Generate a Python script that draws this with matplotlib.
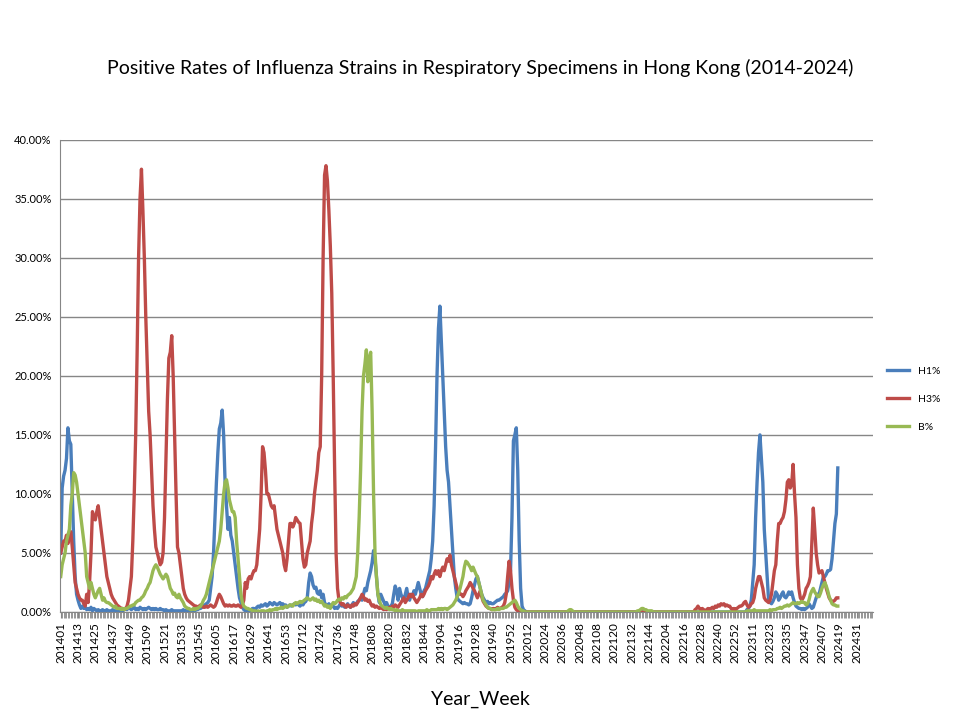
import numpy as np
import matplotlib
matplotlib.use("Agg")
import matplotlib.pyplot as plt
from matplotlib.ticker import FuncFormatter, MultipleLocator

plt.rcParams['font.family'] = ['Lato', 'DejaVu Sans']

# Year -> number of weeks shown on the category axis
year_weeks = {2014: 52, 2015: 52, 2016: 53, 2017: 52, 2018: 52, 2019: 52,
              2020: 52, 2021: 52, 2022: 53, 2023: 52, 2024: 42}
weeks = [f"{y}{w:02d}" for y, n in year_weeks.items() for w in range(1, n + 1)]

h1 = [5.0,10.5,11.5,12.0,13.0,15.6,14.5,14.2,10.0,6.0, 3.0,1.5,1.0,0.6,0.3,0.5,0.3,0.4,0.2,0.3,
      0.2,0.4,0.1,0.3,0.2,0.1,0.2,0.1,0.1,0.2, 0.1,0.1,0.2,0.1,0.1,0.1,0.2,0.1,0.1,0.1,
      0.1,0.2,0.1,0.1,0.2,0.3,0.2,0.4,0.3,0.2, 0.3,0.4,0.2,0.3,0.2,0.4,0.3,0.2,0.3,0.2,
      0.3,0.4,0.3,0.2,0.3,0.2,0.3,0.2,0.2,0.3, 0.2,0.2,0.1,0.2,0.1,0.1,0.1,0.2,0.1,0.1,
      0.1,0.1,0.1,0.1,0.1,0.2,0.1,0.1,0.2,0.1, 0.1,0.1,0.2,0.1,0.2,0.2,0.3,0.3,0.4,0.5,
      0.6,0.7,0.8,1.0,2.0,3.0,5.0,8.0,11.0,13.5, 15.5,16.0,17.1,15.0,11.0,9.0,7.0,8.0,6.5,6.0,
      5.0,4.0,3.0,2.0,1.2,0.8,0.4,0.2,0.1,0.1, 0.2,0.1,0.2,0.3,0.3,0.2,0.4,0.5,0.4,0.6,
      0.5,0.6,0.7,0.5,0.6,0.8,0.7,0.6,0.8,0.7, 0.6,0.7,0.8,0.6,0.7,0.5,0.6,0.4,0.5,0.6,
      0.5,0.6,0.7,0.6,0.7,0.6,0.5,0.7,0.6,0.8, 0.9,1.2,2.5,3.3,3.0,2.3,2.0,2.1,1.6,1.5,
      1.8,1.2,1.5,0.8,0.6,0.5,0.7,0.4,0.6,0.5, 0.3,0.4,0.3,0.5,0.7,0.5,0.6,0.4,0.5,0.7,
      0.5,0.4,0.6,0.8,0.6,0.7,0.9,1.0,1.2,1.0, 1.5,2.0,1.8,2.5,3.0,3.5,4.2,5.2,4.5,3.0,
      1.5,0.8,1.5,1.2,0.9,0.6,0.8,0.5,0.3,0.5, 0.7,1.5,2.2,1.8,1.0,2.0,1.5,1.2,1.0,1.5,
      2.0,1.2,1.0,1.5,1.3,1.8,1.5,2.0,2.5,2.0, 1.5,1.3,1.8,2.0,2.5,3.0,3.5,4.5,6.0,9.0,
      14.0,20.0,24.0,25.9,23.0,20.0,17.0,14.0,12.0,11.0, 9.0,7.0,5.0,3.0,2.0,1.2,1.0,0.9,0.8,0.7,
      0.8,0.7,0.7,0.6,0.7,1.2,1.8,2.3,2.8,3.0, 2.5,2.0,1.5,1.2,1.0,0.8,0.9,0.7,0.8,0.7,
      0.7,0.8,0.9,1.0,1.0,1.1,1.2,1.3,1.5,1.6, 1.8,2.5,3.5,8.0,14.5,15.0,15.6,12.0,6.0,2.0] \
   + [0.5,0.2,0.1] + [0.0] * 153 \
   + [0.2,0.3,0.5,1.0,2.5,4.0,8.0,11.0,13.5,15.0, 13.0,11.0,7.0,5.0,3.0,1.0,0.8,0.7,0.9,
      1.2,1.7,1.5,1.0,1.2,1.5,1.7,1.3,1.2,1.4, 1.7,1.5,1.7,1.2,0.8,0.5,0.4,0.3,0.3,0.2,
      0.3,0.2,0.3,0.4,0.7,0.5,0.3,0.4,0.8,1.2, 1.5,1.5,2.0,2.5,3.0,3.0,3.2,3.5,3.5,3.6,
      4.5,6.0,7.5,8.3,12.2]

h3 = [5.0,5.5,6.0,6.0,6.5,5.8,6.5,6.8,5.5,4.0, 2.5,2.0,1.5,1.2,1.0,1.0,0.7,0.5,1.5,0.8,
      2.5,5.0,8.5,8.0,7.8,8.5,9.0,8.0,7.0,6.0, 5.0,4.0,3.0,2.5,2.0,1.5,1.2,1.0,0.8,0.6,
      0.5,0.4,0.3,0.3,0.2,0.3,0.5,1.0,2.0,3.0, 6.0,10.0,15.0,22.0,30.0,35.0,37.5,34.0,30.0,25.0,
      21.0,17.0,15.0,12.0,9.0,7.0,5.5,5.0,4.5,4.0, 4.2,5.0,8.0,13.0,18.0,21.5,22.0,23.4,20.0,15.0,
      10.0,5.5,5.0,4.0,3.0,2.0,1.5,1.2,1.0,0.9, 0.8,0.7,0.6,0.5,0.5,0.4,0.5,0.6,0.5,0.4,
      0.4,0.5,0.4,0.5,0.6,0.5,0.4,0.5,0.8,1.2, 1.5,1.3,1.0,0.7,0.5,0.6,0.5,0.6,0.5,0.5,
      0.6,0.5,0.5,0.6,0.5,0.4,0.6,1.0,2.5,2.0, 2.8,3.0,2.8,3.2,3.5,3.5,4.0,5.5,7.0,10.0,
      14.0,13.5,12.0,10.0,10.0,9.5,9.0,8.8,9.0,8.0, 7.0,6.5,6.0,5.5,5.0,4.0,3.5,4.5,6.0,7.5,
      7.5,7.2,7.5,8.0,7.8,7.6,7.5,6.0,4.5,3.8, 4.0,5.0,5.5,6.0,7.5,8.5,10.0,11.0,12.0,13.5,
      14.0,20.0,30.0,37.0,37.8,36.5,34.0,31.0,27.0,20.0, 12.0,5.0,2.0,1.0,0.8,0.6,0.7,0.5,0.4,0.6,
      0.5,0.4,0.6,0.5,0.7,0.6,0.8,1.0,1.2,1.5, 1.3,1.0,1.1,0.9,1.0,0.7,0.5,0.6,0.4,0.5,
      0.4,0.3,0.4,0.3,0.2,0.3,0.2,0.3,0.4,0.3, 0.5,0.4,0.6,0.5,0.4,0.6,0.8,1.0,1.2,0.8,
      1.0,1.2,1.5,1.3,1.5,1.2,1.0,0.8,1.0,1.2, 1.5,1.3,1.5,1.8,2.0,2.2,2.5,3.0,2.8,3.2,
      3.5,3.2,3.5,3.0,3.5,3.8,3.5,4.0,4.5,4.3, 4.8,4.0,3.5,3.0,2.5,2.0,1.8,1.5,1.5,1.3,
      1.5,1.8,2.0,2.2,2.5,2.3,2.0,1.8,1.5,1.2, 1.5,1.8,1.3,0.9,0.7,0.5,0.4,0.3,0.3,0.2,
      0.3,0.2,0.3,0.4,0.3,0.3,0.4,0.5,0.8,1.5, 3.0,4.3,3.5,2.0,1.0,0.4,0.2,0.1,0.1,0.0] \
   + [0.0] * 120 \
   + [0.2,0.3,0.5,0.3,0.2,0.3,0.2,0.1,0.2,0.3, 0.2,0.3,0.4,0.3,0.5,0.4,0.6,0.5,0.7,0.6, 0.7,0.5,0.6,0.5,
      0.5,0.3,0.2,0.3,0.2,0.3,0.4,0.5,0.5,0.6, 0.8,0.9,0.6,0.4,0.5,0.7,0.8,1.2,2.0,2.5,
      3.0,3.0,2.5,2.0,1.2,1.0,0.9,0.8,1.0,1.5, 2.5,3.5,4.0,6.0,7.5,7.5,7.8,8.0,8.5,9.5,
      11.0,11.2,10.5,10.8,12.5,10.0,8.0,4.0,2.0,1.2, 1.0,1.2,1.5,2.0,2.2,2.5,3.0,6.0,8.8,7.0,
      5.0,4.0,3.3,3.4,3.5,3.0,2.5,2.0,1.6,1.2, 1.0,0.9,0.9,1.0,1.2,1.2]

b = [3.0,4.0,4.5,5.0,6.0,6.5,7.0,9.0,10.0,11.8, 11.6,11.0,10.0,9.0,8.0,7.0,6.0,5.0,3.0,2.5,
     2.0,2.5,2.0,1.5,1.2,1.5,1.8,2.0,1.5,1.0, 1.2,0.9,0.8,0.8,0.7,0.6,0.5,0.4,0.5,0.3,
     0.3,0.3,0.2,0.3,0.2,0.3,0.3,0.4,0.5,0.5, 0.6,0.6,0.8,0.9,1.0,1.0,1.2,1.3,1.5,1.8,
     2.0,2.3,2.5,3.0,3.5,3.8,4.0,3.8,3.5,3.2, 3.0,2.8,3.0,3.2,3.0,2.5,2.0,1.8,1.5,1.6,
     1.3,1.2,1.5,1.2,1.0,0.8,0.5,0.4,0.3,0.3, 0.2,0.2,0.3,0.2,0.3,0.3,0.4,0.5,0.7,1.0,
     1.2,1.5,2.0,2.5,3.0,3.5,4.0,4.5,5.0,5.5, 6.0,7.0,8.5,10.0,11.0,11.2,10.5,9.5,9.0,8.5,
     8.5,8.0,6.0,4.5,3.0,1.5,0.8,0.5,0.4,0.3, 0.3,0.2,0.2,0.1,0.1,0.1,0.0,0.1,0.0,0.1,
     0.1,0.1,0.0,0.1,0.1,0.2,0.1,0.2,0.2,0.3, 0.2,0.3,0.3,0.4,0.3,0.4,0.5,0.4,0.5,0.6,
     0.6,0.5,0.7,0.8,0.7,0.8,0.9,0.8,0.9,1.0, 1.1,1.2,1.1,1.0,1.1,1.2,1.0,1.1,0.9,1.0,
     0.8,0.9,0.7,0.5,0.6,0.4,0.5,0.3,0.6,0.8, 0.7,0.8,1.0,1.1,1.0,1.2,1.1,1.3,1.2,1.4,
     1.5,1.6,1.8,2.0,2.5,3.0,5.0,8.0,12.0,17.0, 20.0,21.0,22.2,19.5,21.5,22.0,17.0,10.0,5.0,3.0,
     1.5,1.0,0.6,0.5,0.4,0.3,0.4,0.3,0.2,0.3, 0.2,0.2,0.1,0.2,0.1,0.1,0.1,0.2,0.1,0.1,
     0.1,0.1,0.1,0.1,0.1,0.1,0.1,0.0,0.1,0.1, 0.1,0.1,0.1,0.1,0.2,0.1,0.1,0.2,0.2,0.2,
     0.2,0.2,0.3,0.2,0.3,0.2,0.3,0.3,0.2,0.3, 0.4,0.5,0.6,0.8,1.0,1.3,1.6,2.0,2.5,3.0,
     3.8,4.3,4.2,4.0,3.8,3.5,3.8,3.5,3.2,3.0, 2.5,2.0,1.5,1.0,0.8,0.6,0.4,0.3,0.3,0.2,
     0.2,0.2,0.2,0.3,0.2,0.3,0.3,0.3,0.4,0.4, 0.5,0.6,0.7,0.8,0.9,1.0,0.8,0.5,0.3,0.2] \
  + [0.1,0.1] + [0.0] * 30 + [0.1,0.2,0.2,0.1] + [0.0] * 44 \
  + [0.1,0.1,0.2,0.3,0.3,0.2,0.2,0.1,0.1,0.1,0.1] + [0.0] * 65 \
  + [0.1,0.1,0.1,0.1,0.1,0.2,0.1,0.1,0.1,0.1, 0.1,0.1,0.1,0.1,0.1,0.1,0.2,0.1,0.2,0.2,
     0.2,0.3,0.3,0.4,0.3,0.4,0.5,0.5,0.6,0.5, 0.6,0.7,0.8,0.7,0.7,0.8,0.7,0.8,0.9,0.8,
     0.8,0.6,0.7,1.0,1.5,1.8,2.0,1.7,1.5,1.3, 1.3,1.6,2.0,2.3,2.5,2.2,1.8,1.3,1.0,0.7,
     0.6,0.6,0.5,0.5]

series = {"H1%": (h1, "#4A7EBB"), "H3%": (h3, "#BE4B48"), "B%": (b, "#98B954")}

fig = plt.figure(figsize=(9.6, 7.2), dpi=100)
ax = fig.add_axes([0.0625, 0.15, 0.847, 0.656])
N = len(weeks)
x = np.arange(N)
for name, (vals, col) in series.items():
    arr = np.full(N, np.nan)
    arr[:len(vals)] = np.array(vals) / 100.0
    ax.plot(x, arr, color=col, lw=2.4, label=name, solid_joinstyle='round')

ax.set_xlim(-0.5, N - 0.5)
ax.set_ylim(0, 0.40)
ax.yaxis.set_major_locator(MultipleLocator(0.05))
ax.yaxis.set_major_formatter(FuncFormatter(lambda v, p: f"{v*100:.2f}%"))
ax.grid(axis='y', color='#868686', lw=1)
ax.set_axisbelow(True)
ax.set_xticks(x[::12])
ax.set_xticklabels(weeks[::12], rotation=90, fontsize=8.5)
ax.set_xticks(x, minor=True)
ax.tick_params(axis='x', which='both', length=4, color='#868686', direction='out')
ax.tick_params(axis='y', length=0, labelsize=8, pad=6)
for s in ['top', 'right']:
    ax.spines[s].set_visible(False)
for s in ['left', 'bottom']:
    ax.spines[s].set_color('#868686')

fig.text(0.5, 0.905, "Positive Rates of Influenza Strains in Respiratory Specimens in Hong Kong (2014-2024)",
         ha='center', va='center', fontsize=14)
fig.text(0.5, 0.028, "Year_Week", ha='center', va='center', fontsize=14)
leg = ax.legend(loc='center left', bbox_to_anchor=(1.005, 0.45), frameon=False,
                fontsize=7.5, handlelength=2.2, labelspacing=1.8)
fig.savefig("out.png", dpi=100)
